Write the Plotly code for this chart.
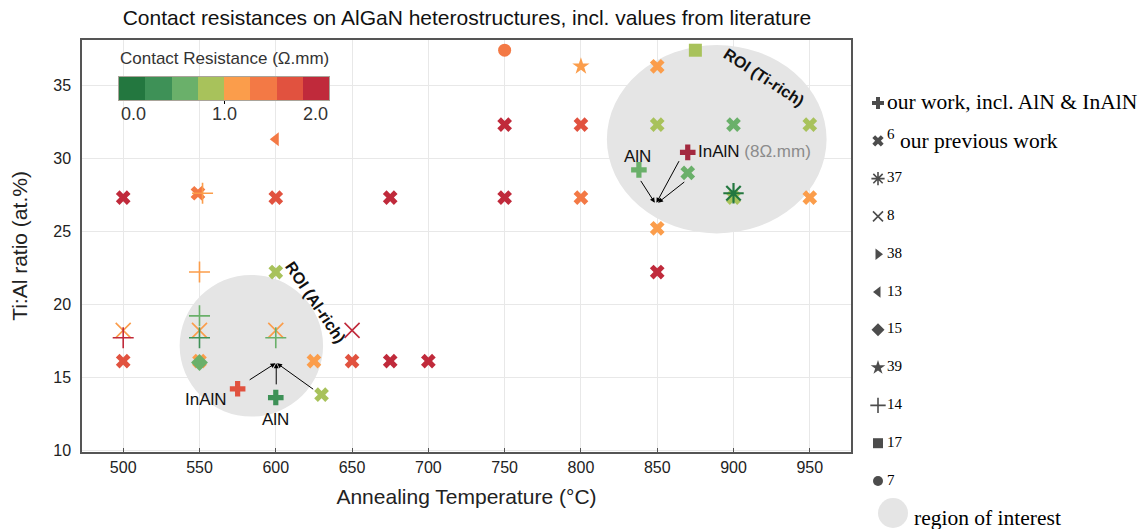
import plotly.graph_objects as go

# ---------------- data ----------------
# contact resistance colour bins (Ohm.mm), 0.25 wide; last band = out of range (>2)
bin_colors = ["#23773f", "#3e9157", "#6ab06a", "#a8c25b", "#fb9d4b", "#f37945", "#e1523f", "#c02a3b", "#a3293f"]

# our work (thick plus)
work_T = [575, 600, 838, 870]
work_ratio = [14.2, 13.6, 29.2, 30.4]
work_rc = [1.6, 0.4, 0.6, 8.0]

# ref 6, our previous work (thick x)
prev_T = [500, 600, 675, 750, 800, 750, 800, 850, 850, 900, 950, 870, 900, 950, 850, 850,
          600, 500, 550, 625, 650, 675, 700, 630, 549]
prev_ratio = [27.3, 27.3, 27.3, 27.3, 27.3, 32.3, 32.3, 36.3, 32.3, 32.3, 32.3, 29.0, 27.3, 27.3, 25.2, 22.2,
              22.2, 16.1, 16.1, 16.1, 16.1, 16.1, 16.1, 13.8, 27.6]
prev_rc = [1.9, 1.6, 1.9, 1.9, 1.4, 1.9, 1.6, 1.1, 0.9, 0.6, 0.9, 0.6, 0.9, 1.1, 1.1, 1.9,
           0.9, 1.6, 1.1, 1.1, 1.6, 1.9, 1.9, 0.9, 1.4]

# ref 37 (asterisk)
r37_T, r37_ratio, r37_rc = [900], [27.6], [0.1]
# ref 8 (thin x)
r8_T, r8_ratio, r8_rc = [500, 550, 600, 650], [18.2, 18.2, 18.2, 18.2], [1.1, 1.1, 1.1, 1.9]
# ref 38 (triangle right) - no visible point
r38_T, r38_ratio, r38_rc = [], [], []
# ref 13 (triangle left)
r13_T, r13_ratio, r13_rc = [600], [31.3], [1.4]
# ref 15 (diamond)
r15_T, r15_ratio, r15_rc = [550], [16.0], [0.6]
# ref 39 (star)
r39_T, r39_ratio, r39_rc = [800], [36.3], [1.1]
# ref 14 (thin plus)
r14_T, r14_ratio, r14_rc = [550, 550, 550, 600, 500, 552], [22.2, 19.2, 17.7, 17.7, 17.7, 27.6], [1.1, 0.6, 0.4, 0.6, 1.9, 1.1]
# ref 17 (square)
r17_T, r17_ratio, r17_rc = [875], [37.4], [0.9]
# ref 7 (circle)
r7_T, r7_ratio, r7_rc = [750], [37.4], [1.4]

# regions of interest: (center T, center ratio, half-width T, half-height ratio)
roi_ti = (889, 31.3, 72, 6.45)
roi_al = (584, 17.15, 47, 4.85)

x_ticks = [500, 550, 600, 650, 700, 750, 800, 850, 900, 950]
y_ticks = [10, 15, 20, 25, 30, 35]
cb_ticks = ["0.0", "1.0", "2.0"]

legend_labels = ["our work, incl. AlN &amp; InAlN", "<sup>6</sup> our previous work", "<sup>37</sup>", "<sup>8</sup>",
                 "<sup>38</sup>", "<sup>13</sup>", "<sup>15</sup>", "<sup>39</sup>", "<sup>14</sup>",
                 "<sup>17</sup>", "<sup>7</sup>"]
legend_symbols = ["cross", "x", "asterisk-open", "x-thin-open", "triangle-right", "triangle-left",
                  "diamond", "star", "cross-thin-open", "square", "circle"]

# ---------------- geometry helpers (page pixels -> paper fractions) ----------------
WPX, HPX = 1143, 529


def fx(p):
    return p / WPX


def fy(p):
    return (HPX - p) / HPX


n = len(bin_colors)
cmax = 0.25 * n
colorscale = []
for i, c in enumerate(bin_colors):
    colorscale.append([i / n, c])
    colorscale.append([(i + 1) / n, c])

FONT = "Liberation Sans, Arial, sans-serif"
SERIF = "Liberation Serif, Times New Roman, serif"

fig = go.Figure()


def add_series(T, R, rc, symbol, size, lw=0):
    if not T:
        return
    fig.add_trace(go.Scatter(
        x=T, y=R, mode="markers", showlegend=False, hoverinfo="skip",
        marker=dict(symbol=symbol, size=size, color=rc, colorscale=colorscale,
                    cmin=0, cmax=cmax, line=dict(width=lw)),
    ))


add_series(prev_T, prev_ratio, prev_rc, "x", 13)
add_series(r15_T, r15_ratio, r15_rc, "diamond", 13)
add_series(r8_T, r8_ratio, r8_rc, "x-thin-open", 15, 1.6)
add_series(r14_T, r14_ratio, r14_rc, "cross-thin-open", 15, 1.6)
add_series(r13_T, r13_ratio, r13_rc, "triangle-left", 12)
add_series(r38_T, r38_ratio, r38_rc, "triangle-right", 12)
add_series(r39_T, r39_ratio, r39_rc, "star", 13)
add_series(r17_T, r17_ratio, r17_rc, "square", 13)
add_series(r7_T, r7_ratio, r7_rc, "circle", 13)
add_series(r37_T, r37_ratio, r37_rc, "asterisk-open", 17, 2.2)
add_series(work_T, work_ratio, work_rc, "cross", 13)

# colour bar drawn as a heatmap on an inset axis
cb_centers = [0.125 + 0.25 * i for i in range(8)]
fig.add_trace(go.Heatmap(
    x=cb_centers, y=[0.5], z=[cb_centers], colorscale=colorscale, zmin=0, zmax=cmax,
    showscale=False, hoverinfo="skip", xaxis="x2", yaxis="y2",
))

# ---------------- key (legend) on its own pixel axis ----------------
KEY_X, KEY_Y0, KEY_STEP = 878, 103, 37.8
key_y = [KEY_Y0 + KEY_STEP * i for i in range(len(legend_labels))]
key_sizes = [10, 10, 11, 10, 10, 10, 10, 11, 11, 10, 10]
key_lw = [0, 0, 1.6, 1.6, 0, 0, 0, 0, 1.6, 0, 0]
fig.add_trace(go.Scatter(
    x=[KEY_X] * len(legend_labels), y=key_y, mode="markers", xaxis="x3", yaxis="y3",
    hoverinfo="skip", cliponaxis=False,
    marker=dict(symbol=legend_symbols, size=key_sizes, color="black",
                line=dict(width=key_lw, color="black")),
))
fig.add_trace(go.Scatter(
    x=[893], y=[513], mode="markers", xaxis="x3", yaxis="y3", hoverinfo="skip", cliponaxis=False,
    marker=dict(symbol="circle", size=30, color="#e5e5e5"),
))

# ---------------- shapes ----------------
shapes = []
for (cx, cy, rx, ry) in (roi_ti, roi_al):
    shapes.append(dict(type="circle", xref="x", yref="y", x0=cx - rx, x1=cx + rx, y0=cy - ry, y1=cy + ry,
                       fillcolor="#e5e5e5", line=dict(width=0), layer="between"))
# white box behind the colour legend
shapes.append(dict(type="rect", xref="paper", yref="paper", x0=fx(83), x1=fx(345), y0=fy(142), y1=fy(41),
                   fillcolor="white", line=dict(width=0), layer="between"))

# ---------------- annotations ----------------
ann = []
ann.append(dict(text="<b>ROI (Ti-rich)</b>", x=920, y=35.55, xref="x", yref="y", showarrow=False, textangle=33,
                font=dict(family=FONT, size=16, color="#111")))
ann.append(dict(text="<b>ROI (Al-rich)</b>", x=626, y=20.1, xref="x", yref="y", showarrow=False, textangle=56,
                font=dict(family=FONT, size=16, color="#111")))

ann.append(dict(text="AlN", x=837, y=30.1, xref="x", yref="y", showarrow=False,
                font=dict(family=FONT, size=17, color="#111")))
ann.append(dict(text="InAlN <span style='color:#8c8c8c'>(8Ω.mm)</span>", x=875.5, y=30.45, xref="x", yref="y",
                showarrow=False, xanchor="left", font=dict(family=FONT, size=17, color="#111")))
ann.append(dict(text="InAlN", x=554, y=13.5, xref="x", yref="y", showarrow=False,
                font=dict(family=FONT, size=17, color="#111")))
ann.append(dict(text="AlN", x=600, y=12.1, xref="x", yref="y", showarrow=False,
                font=dict(family=FONT, size=17, color="#111")))

arrows = [
    ((848.4, 26.95), (838.6, 28.55)),
    ((849.5, 26.95), (864.8, 29.9)),
    ((850.5, 26.95), (868.7, 28.45)),
    ((599.8, 15.95), (581.9, 14.75)),
    ((600.3, 15.95), (600.3, 14.4)),
    ((600.8, 15.95), (625.5, 14.1)),
]
for (hx, hy), (tx, ty) in arrows:
    ann.append(dict(x=hx, y=hy, ax=tx, ay=ty, xref="x", yref="y", axref="x", ayref="y", text="",
                    showarrow=True, arrowhead=2, arrowsize=1, arrowwidth=1, arrowcolor="black", standoff=0))

# colour bar title and labels
ann.append(dict(text="Contact Resistance (Ω.mm)", x=fx(224), y=fy(59), xref="paper", yref="paper",
                xanchor="center", yanchor="middle", showarrow=False,
                font=dict(family=FONT, size=17, color="#333")))
for lab, xp, anc in zip(cb_ticks, [119, 224, 330], ["left", "center", "right"]):
    ann.append(dict(text=lab, x=fx(xp), y=fy(114), xref="paper", yref="paper", xanchor=anc, yanchor="middle",
                    showarrow=False, font=dict(family=FONT, size=18, color="#333")))

# key texts
for lab, yk in zip(legend_labels, key_y):
    ann.append(dict(text=lab, x=885, y=yk - 1.5, xref="x3", yref="y3", xanchor="left", yanchor="middle",
                    showarrow=False, font=dict(family=SERIF, size=21.5, color="black")))
ann.append(dict(text="region of interest", x=912, y=518, xref="x3", yref="y3", xanchor="left", yanchor="middle",
                showarrow=False, font=dict(family=SERIF, size=21.5, color="black")))

fig.update_layout(
    width=WPX, height=HPX,
    margin=dict(l=0, r=0, t=0, b=0, autoexpand=False),
    showlegend=False,
    paper_bgcolor="white", plot_bgcolor="white",
    title=dict(text="Contact resistances on AlGaN heterostructures, incl. values from literature",
               x=fx(467), xanchor="center", y=fy(18), yanchor="middle",
               font=dict(family=FONT, size=21, color="#111")),
    xaxis=dict(domain=[fx(82), fx(851)], anchor="y", range=[473, 977], tickvals=x_ticks,
               showgrid=True, gridcolor="#e8e8e8", gridwidth=1,
               zeroline=False, showline=True, linecolor="#555", linewidth=1.5, mirror=True,
               ticks="inside", ticklen=4, tickcolor="#555",
               tickfont=dict(family=FONT, size=16, color="#222"),
               title=dict(text="Annealing Temperature (°C)", font=dict(family=FONT, size=21, color="#222"),
                          standoff=14)),
    yaxis=dict(domain=[fy(452), fy(40)], anchor="x", range=[9.87, 38.1], tickvals=y_ticks,
               showgrid=True, gridcolor="#e8e8e8", gridwidth=1,
               zeroline=False, showline=True, linecolor="#555", linewidth=1.5, mirror=True,
               ticklabelstandoff=6,
               tickfont=dict(family=FONT, size=16, color="#222"),
               title=dict(text="Ti:Al ratio (at.%)", font=dict(family=FONT, size=21, color="#222"),
                          standoff=20)),
    xaxis2=dict(domain=[fx(119), fx(329)], anchor="y2", range=[0, 2], showgrid=False, zeroline=False,
                tickvals=[1], ticktext=[""], ticks="outside", ticklen=3, tickcolor="black",
                showline=True, linecolor="#aaa49a", linewidth=1, mirror=True),
    yaxis2=dict(domain=[fy(100), fy(77)], anchor="x2", range=[0, 1], showgrid=False, zeroline=False,
                showticklabels=False, showline=True, linecolor="#aaa49a", linewidth=1, mirror=True),
    xaxis3=dict(domain=[fx(860), 1], anchor="y3", range=[860, WPX], visible=False, fixedrange=True),
    yaxis3=dict(domain=[0, 1], anchor="x3", range=[HPX, 0], visible=False, fixedrange=True),
    shapes=shapes,
    annotations=ann,
)

fig.write_html("out.html")
